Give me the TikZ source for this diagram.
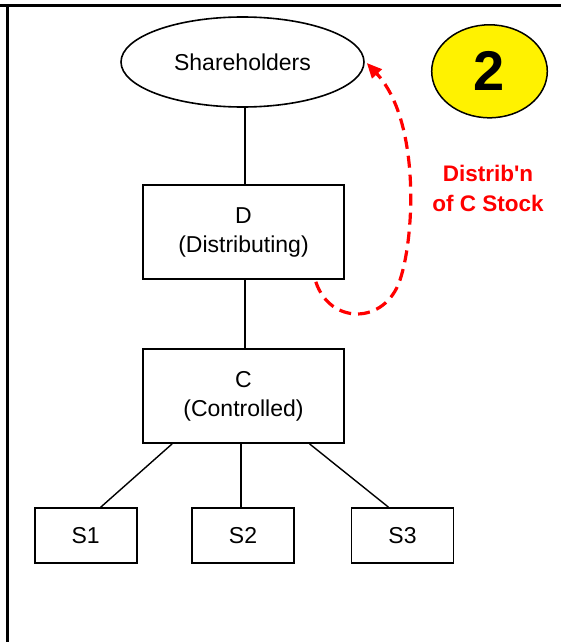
\documentclass[tikz,border=0pt]{standalone}
\usepackage{fontspec}
\setmainfont{Liberation Sans}
\usetikzlibrary{arrows.meta,shapes.geometric}
\begin{document}
\begin{tikzpicture}[x=1pt,y=-1pt,
  frame/.style={line width=3pt,black},
  box/.style={draw=black,line width=1.6pt,rectangle,inner sep=0pt,align=center,
    font=\fontsize{23}{29}\selectfont},
  ent/.style={draw=black,line width=1.6pt,ellipse,inner sep=0pt,
    font=\fontsize{23}{29}\selectfont},
  sbox/.style={box,minimum width=102pt,minimum height=55pt},
  bigbox/.style={box,minimum width=201pt,minimum height=94pt},
  conn/.style={line width=1.4pt,black},
  distarrow/.style={red,line width=3.2pt,dash pattern=on 12pt off 7pt,
    -{Triangle[length=15pt,width=13pt]}},
  lbl/.style={text=red,align=center,inner sep=0pt,
    font=\bfseries\fontsize{22.5}{30}\selectfont},
  badge/.style={draw=black,line width=1.5pt,fill=yellow,ellipse,inner sep=0pt,
    font=\bfseries\fontsize{56}{56}\selectfont}
]
\useasboundingbox (0,0) rectangle (561,642);
\coordinate (tl) at (0,5.5);
\coordinate (tr) at (561,5.5);
\coordinate (lt) at (7.5,5.5);
\coordinate (lb) at (7.5,642);
\draw[frame] (tl) -- (tr);
\draw[frame] (lt) -- (lb);

\node[ent,minimum width=243pt,minimum height=90pt] (sh) at (242.5,62) {Shareholders};
\node[badge,minimum width=115.6pt,minimum height=93pt] (two) at (489.5,71.3) {\raisebox{-1.5pt}{2}};

\node[bigbox] (D) at (243.5,232) {D\\(Distributing)};
\node[bigbox] (C) at (243.5,396) {C\\(Controlled)};

\node[sbox] (S1) at (85.7,535.5) {S1};
\node[sbox] (S2) at (243,535.5) {S2};
\node[sbox] (S3) at (402.5,535.5) {S3};

\draw[conn] ([xshift=2.5pt]sh.south) -- ([xshift=1.5pt]D.north);
\draw[conn] ([xshift=1.5pt]D.south) -- ([xshift=1.5pt]C.north);
\draw[conn] ([xshift=30pt]C.south west) -- ([xshift=15pt]S1.north);
\draw[conn] ([xshift=-2.5pt]C.south) -- ([xshift=-2pt]S2.north);
\draw[conn] ([xshift=-35.3pt]C.south east) -- ([xshift=-14pt]S3.north);

\coordinate (as) at ([xshift=-29pt,yshift=-2pt]D.south east);
\coordinate (am) at (400,280);
\coordinate (ae) at ([xshift=2pt,yshift=-1pt]sh.east);
\draw[distarrow] (as) .. controls (330,325) and (385,325) .. (am)
  .. controls (415,235) and (420,120) .. (ae);

\node[lbl] (lab) at (488,188.6) {Distrib\textquotesingle n\\of C Stock};
\end{tikzpicture}
\end{document}
